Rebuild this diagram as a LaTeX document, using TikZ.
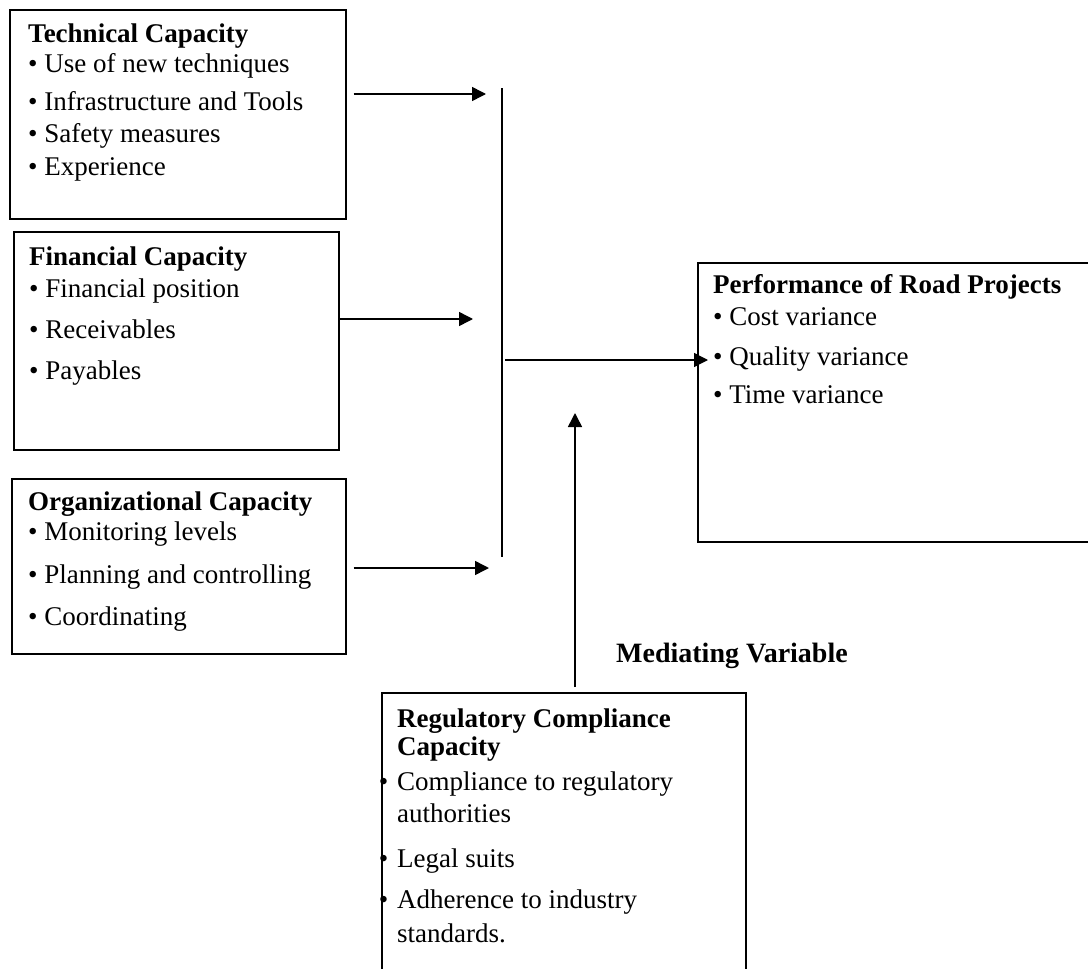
\documentclass[tikz,border=0pt]{standalone}
\usepackage{fontspec}
\setmainfont{Liberation Serif}
\usetikzlibrary{arrows.meta}

\tikzset{
  capbox/.style={draw, line width=1.5pt, inner sep=0pt, anchor=north west},
  boxtext/.style={anchor=north west, inner sep=0pt, align=left},
  arr/.style={line width=1.5pt, -{Triangle[length=14pt,width=14pt]}},
  bar/.style={line width=1.5pt}
}

\begin{document}
\begin{tikzpicture}[x=1pt, y=-1pt, font=\fontsize{27}{32}\selectfont]
  \useasboundingbox (0,0) rectangle (1088,969);
  \clip (0,0) rectangle (1088,969);
  % Technical capacity
  \node[capbox, minimum width=336pt, minimum height=209pt] (tech) at (9,9) {};
  \node[boxtext] (techtext) at (28,19.6) {\strut\textbf{Technical Capacity}\\[-2pt]
    \strut• Use of new techniques\\[6pt]
    \strut• Infrastructure and Tools\\
    \strut• Safety measures\\[1pt]
    \strut• Experience};
  % Financial capacity
  \node[capbox, minimum width=325pt, minimum height=218pt] (fin) at (13,231) {};
  \node[boxtext] (fintext) at (29,242.6) {\strut\textbf{Financial Capacity}\\
    \strut• Financial position\\[9pt]
    \strut• Receivables\\[9pt]
    \strut• Payables};
  % Organizational capacity
  \node[capbox, minimum width=334pt, minimum height=175pt] (org) at (11,478) {};
  \node[boxtext] (orgtext) at (28,487.6) {\strut\textbf{Organizational Capacity}\\[-2pt]
    \strut• Monitoring levels\\[11pt]
    \strut• Planning and controlling\\[10pt]
    \strut• Coordinating};
  % Performance of road projects
  \node[capbox, minimum width=403pt, minimum height=279pt] (perf) at (697,262) {};
  \node[boxtext] (perftext) at (713,270.6) {\strut\textbf{Performance of Road Projects}\\
    \strut• Cost variance\\[8pt]
    \strut• Quality variance\\[6pt]
    \strut• Time variance};
  % Regulatory compliance capacity
  \node[capbox, minimum width=364pt, minimum height=300pt] (reg) at (381,692) {};
  \node[boxtext] (regtext) at (397,704.6) {\strut\textbf{Regulatory Compliance}\\[-4pt]
    \strut\textbf{Capacity}\\[3pt]
    \strut\llap{•\hspace{9pt}}Compliance to regulatory\\
    \strut authorities\\[13pt]
    \strut\llap{•\hspace{9pt}}Legal suits\\[9pt]
    \strut\llap{•\hspace{9pt}}Adherence to industry\\[2pt]
    \strut standards.};
  \node[anchor=base west, inner sep=0pt, font=\bfseries\fontsize{28}{32}\selectfont] (medlabel) at (616,662) {Mediating Variable};
  % Connectors
  \coordinate (bartop) at (502,88);
  \coordinate (barbot) at (502,557);
  \draw[bar] (bartop) -- (barbot);
  \coordinate (techin) at (486,94);
  \coordinate (finin) at (473,319);
  \coordinate (orgin) at (489,568);
  \draw[arr] ([xshift=7pt]tech.east |- techin) -- (techin);
  \draw[arr] (fin.east |- finin) -- (finin);
  \draw[arr] ([xshift=7pt]org.east |- orgin) -- (orgin);
  \coordinate (junction) at (505,360);
  \draw[arr] (junction) -- ([xshift=11pt]perf.west |- junction);
  \coordinate (medtip) at (575,413);
  \draw[arr] ([yshift=5pt]reg.north -| medtip) -- (medtip);
\end{tikzpicture}
\end{document}
